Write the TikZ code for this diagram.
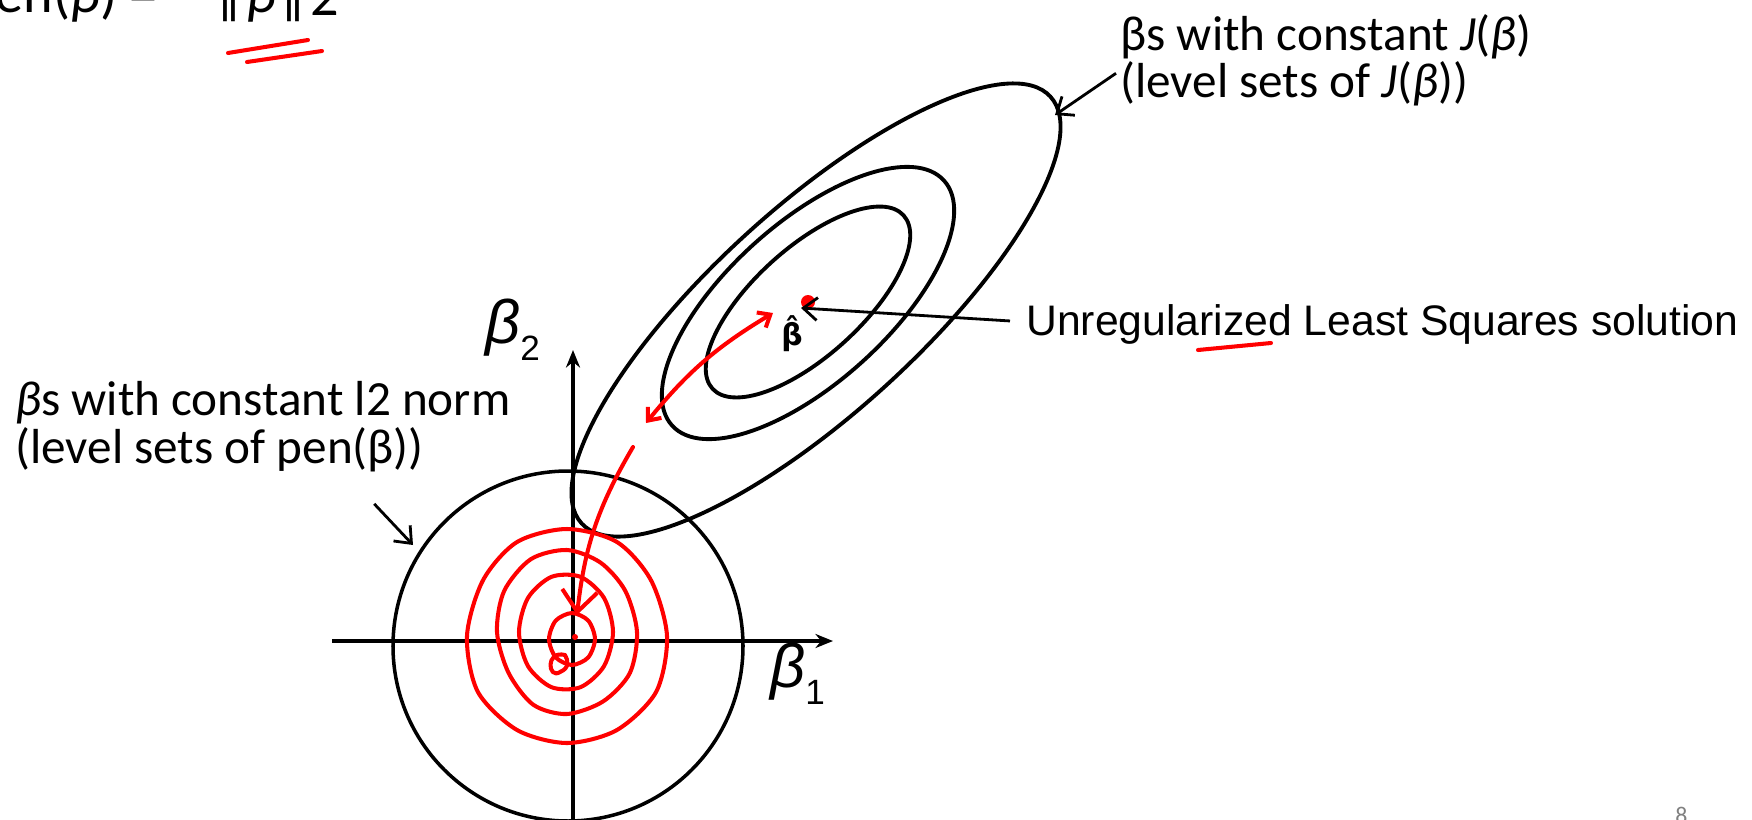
\documentclass[tikz,border=0pt]{standalone}
\usepackage{fontspec}
\setmainfont{Carlito}
\newfontfamily\arialfont{Liberation Sans}
\newfontfamily\dejavufont{DejaVu Sans}
\usetikzlibrary{arrows.meta}

% axis label: italic beta with a lowered index
\newcommand{\axislabel}[1]{{\itshape β}\raisebox{-10pt}{\fontsize{20}{24}\selectfont #1}}
% double bar of the norm
\newcommand{\normbar}{|\kern-0.32em|}

\begin{document}
\begin{tikzpicture}[x=0.02cm,y=-0.02cm,
  contour/.style={line width=2.2pt},
  axis/.style={line width=1.8pt,-{Stealth[length=10pt,width=8pt]}},
  pointer/.style={line width=1.6pt,-{Straight Barb[length=8pt,width=13pt]}},
  scribble/.style={red,line width=2.3pt,line cap=round,line join=round},
  calibri/.style={font=\fontsize{28}{33}\selectfont,inner sep=0pt,anchor=base west},
  arial/.style={font=\arialfont\fontsize{24.3}{28}\selectfont,inner sep=0pt,anchor=base west}]
\useasboundingbox (0,0) rectangle (1752,819);
\clip (0,0) rectangle (1752,819);

% cut-off formula at the top
\node[font=\fontsize{32}{38}\selectfont,inner sep=0pt,anchor=base west] (pen) at (-34,12)
  {pen(\textit{β}) =\hspace{0.75em} \normbar\textit{β}\normbar\raisebox{-2pt}{2}};
\draw[scribble] (228,53) -- (308,40);
\draw[scribble] (247,62) -- (322,51);

% axes and the l2 ball
\draw[axis] (332,641) -- (833,641);
\draw[axis] (573,830) -- (573,350);
\node[font=\arialfont\fontsize{35}{40}\selectfont,inner sep=0pt,anchor=base west] (b1) at (770,687) {\axislabel{1}};
\node[font=\arialfont\fontsize{35}{40}\selectfont,inner sep=0pt,anchor=base west] (b2) at (485,343) {\axislabel{2}};
\draw[line width=2pt] (568,646) circle (175);

% level sets of J(beta)
\draw[contour,shift={(816,310)},rotate=42.3] (0,0) ellipse (317 and 103);
\draw[contour,shift={(808,303)},rotate=42] (0,0) ellipse (183 and 80);
\draw[contour,shift={(808,302)},rotate=42.2] (0,0) ellipse (129 and 54);

% least squares solution
\fill[red] (808,302) circle (7);
\node[font=\dejavufont\bfseries\fontsize{17}{20}\selectfont,inner sep=0pt,anchor=base] (bhat) at (792,345) {β̂};
\coordinate (lsq) at (801,308);

% labels
\node[calibri] (jlab1) at (1120,50) {βs with constant \textit{J}(\textit{β})};
\node[calibri] (jlab2) at (1120,97) {(level sets of \textit{J}(\textit{β}))};
\coordinate (jtip) at (1055,115);
\draw[pointer] ([shift={(-4,-10)}]jlab2.west) -- (jtip);

\node[calibri] (pen1) at (15,415) {\textit{β}s with constant l2 norm};
\node[calibri] (pen2) at (15,463) {(level sets of pen(β))};
\coordinate (balltip) at (413,545);
\draw[pointer] ([shift={(-50,32)}]pen2.south east) -- (balltip);

\node[arial] (ols) at (1026,335) {Unregularized Least Squares solution};
\draw[pointer] ([shift={(-16,-3)}]ols.west) -- (lsq);
\draw[scribble] (1198,350) -- (1271,343);

% red scribbles
\coordinate (ridge) at (646,423);
\coordinate (near) at (773,313);
\coordinate (gap) at (633,447);
\coordinate (origin) at (577,615);
\draw[scribble,{Straight Barb[length=6pt,width=10pt]}-{Straight Barb[length=6pt,width=10pt]}] (ridge) to[bend left=10] (near);
\draw[scribble,-{Straight Barb[length=12pt,width=20pt]}] (gap) to[bend right=12] (origin);

\draw[scribble] plot[smooth cycle,samples=12,domain=0:330] ({567+(100+3*sin(3*\x))*cos(\x)},{636+(110+3*cos(2*\x))*sin(\x)});
\draw[scribble] plot[smooth cycle,samples=12,domain=0:330] ({567+(70+3*sin(2*\x))*cos(\x)},{632+(82+2*cos(3*\x))*sin(\x)});
\draw[scribble] plot[smooth cycle,samples=10,domain=0:324] ({566+47*cos(\x)},{632+58*sin(\x)});
\draw[scribble] plot[smooth cycle,samples=8,domain=0:315] ({572+23*cos(\x)},{639+26*sin(\x)});
\draw[scribble] (565,655) .. controls (545,650) and (548,680) .. (560,672) .. controls (570,668) and (568,660) .. (565,655);
\fill[red] (575,637) circle (3);

% page number
\node[text=gray,font=\fontsize{13.6}{16}\selectfont,inner sep=0pt,anchor=base west] (page) at (1675,823) {8};
\end{tikzpicture}
\end{document}
